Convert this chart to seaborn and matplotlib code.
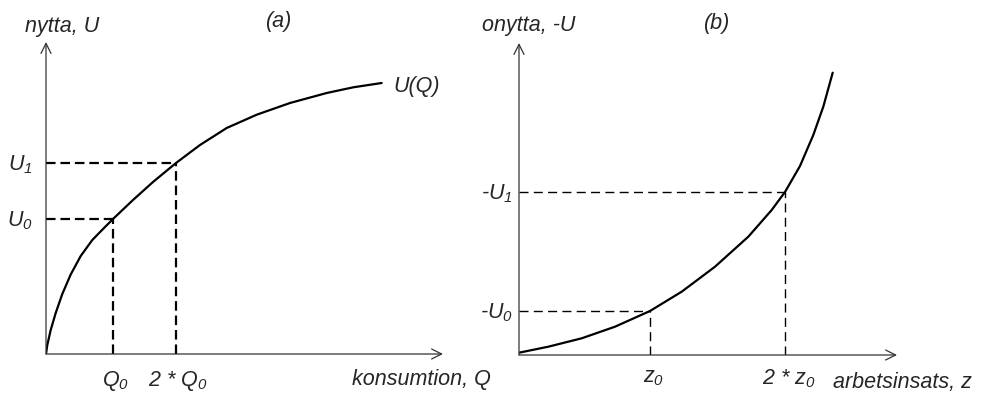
import matplotlib
matplotlib.use("Agg")
import matplotlib.pyplot as plt
import seaborn as sns
import pandas as pd

# ---- data (arbitrary units) ----
# panel (a): utility curve U(Q)
q_vals = [0.0, 0.13, 0.47, 0.97, 1.63, 2.47, 3.47, 4.63, 5.8, 6.75, 8.7, 10.7,
          13.0, 15.4, 18.07, 21.07, 24.4, 28.07, 30.73, 33.57]
u_vals = [0.0, 0.9, 2.4, 4.1, 6.0, 7.95, 9.8, 11.4, 12.6, 13.55, 15.4, 17.2,
          19.1, 20.9, 22.6, 23.93, 25.1, 26.1, 26.67, 27.1]
q_marks = [6.75, 13.0]          # Q0, 2*Q0
u_marks = [13.5, 19.1]          # U0, U1
q_labels = [r"$\mathit{Q}_\mathit{0}$", r"2 * $\mathit{Q}_\mathit{0}$"]
u_labels = [r"$\mathit{U}_\mathit{0}$", r"$\mathit{U}_\mathit{1}$"]

# panel (b): disutility curve -U(z)
z_vals = [0.0, 2.93, 6.27, 9.6, 13.1, 16.27, 19.6, 22.93, 25.27, 26.6, 28.1,
          29.43, 30.43, 31.37]
d_vals = [0.23, 0.83, 1.67, 2.83, 4.4, 6.33, 8.83, 11.83, 14.5, 16.3, 18.9,
          22.0, 24.83, 28.23]
z_marks = [13.1, 26.6]          # z0, 2*z0
d_marks = [4.4, 16.3]           # -U0, -U1
z_labels = [r"$\mathit{z}_\mathit{0}$", r"2 * $\mathit{z}_\mathit{0}$"]
d_labels = [r"-$\mathit{U}_\mathit{0}$", r"-$\mathit{U}_\mathit{1}$"]

sns.set_style("white")
plt.rcParams["font.family"] = ["Liberation Sans", "DejaVu Sans"]
plt.rcParams["font.style"] = "italic"
plt.rcParams["mathtext.fontset"] = "custom"
plt.rcParams["mathtext.it"] = "Liberation Sans:italic"
plt.rcParams["mathtext.rm"] = "Liberation Sans:italic"

W, H = 981, 394
fig = plt.figure(figsize=(W / 100, H / 100), dpi=100)
FS = 15.5


def make_axes(x0, y0, x1, y1):
    ax = fig.add_axes([x0 / W, 1 - y0 / H, (x1 - x0) / W, (y0 - y1) / H])
    ax.set_xlim(0, (x1 - x0) / 10)
    ax.set_ylim(0, (y0 - y1) / 10)
    ax.axis("off")
    return ax


def draw_axes_arrows(ax):
    xm = ax.get_xlim()[1]
    ym = ax.get_ylim()[1]
    ap = dict(arrowstyle="->", lw=0.9, color="#333333", mutation_scale=18,
              shrinkA=0, shrinkB=0)
    ax.annotate("", xy=(xm, 0), xytext=(0, 0), arrowprops=ap, annotation_clip=False)
    ax.annotate("", xy=(0, ym), xytext=(0, 0), arrowprops=ap, annotation_clip=False)


# ---------------- panel (a) ----------------
axa = make_axes(46, 354, 443, 42)
df_a = pd.DataFrame({"Q": q_vals, "U": u_vals})
sns.lineplot(data=df_a, x="Q", y="U", ax=axa, color="black", lw=1.6, sort=False)
for qm, um in zip(q_marks, u_marks):
    axa.plot([0, qm], [um, um], color="black", lw=1.6, ls=(0, (4.3, 2.2)))
    axa.plot([qm, qm], [0, um], color="black", lw=1.6, ls=(0, (4.3, 2.2)))
draw_axes_arrows(axa)
for qm, lab in zip(q_marks, q_labels):
    axa.text(qm + 0.2, -1.5, lab, ha="center", va="top", fontsize=FS, clip_on=False)
for um, lab in zip(u_marks, u_labels):
    axa.text(-1.3, um - 0.7, lab, ha="right", va="baseline", fontsize=FS, clip_on=False)
axa.text(1.6, 32.7, "nytta, U", ha="center", va="center", fontsize=FS, clip_on=False)
axa.text(23.3, 33.2, "(a)", ha="center", va="center", fontsize=FS, clip_on=False)
axa.text(34.7, 26.7, "U(Q)", ha="left", va="center", fontsize=FS, clip_on=False)
axa.text(30.6, -1.5, "konsumtion, Q", ha="left", va="top", fontsize=FS, clip_on=False)

# ---------------- panel (b) ----------------
axb = make_axes(519, 355, 897, 43)
df_b = pd.DataFrame({"z": z_vals, "D": d_vals})
sns.lineplot(data=df_b, x="z", y="D", ax=axb, color="black", lw=1.6, sort=False)
for zm, dm in zip(z_marks, d_marks):
    axb.plot([0, zm], [dm, dm], color="black", lw=1.0, ls=(0, (6.5, 3.8)))
    axb.plot([zm, zm], [0, dm], color="black", lw=1.0, ls=(0, (6.5, 3.8)))
draw_axes_arrows(axb)
for zm, lab in zip(z_marks, z_labels):
    axb.text(zm + 0.4, -1.2, lab, ha="center", va="top", fontsize=FS, clip_on=False)
for dm, lab in zip(d_marks, d_labels):
    axb.text(-0.6, dm - 0.7, lab, ha="right", va="baseline", fontsize=FS, clip_on=False)
axb.text(1.0, 32.9, "onytta, -U", ha="center", va="center", fontsize=FS, clip_on=False)
axb.text(19.8, 33.1, "(b)", ha="center", va="center", fontsize=FS, clip_on=False)
axb.text(31.4, -1.7, "arbetsinsats, z", ha="left", va="top", fontsize=FS, clip_on=False)

fig.savefig("out.png", dpi=100, facecolor="white")
